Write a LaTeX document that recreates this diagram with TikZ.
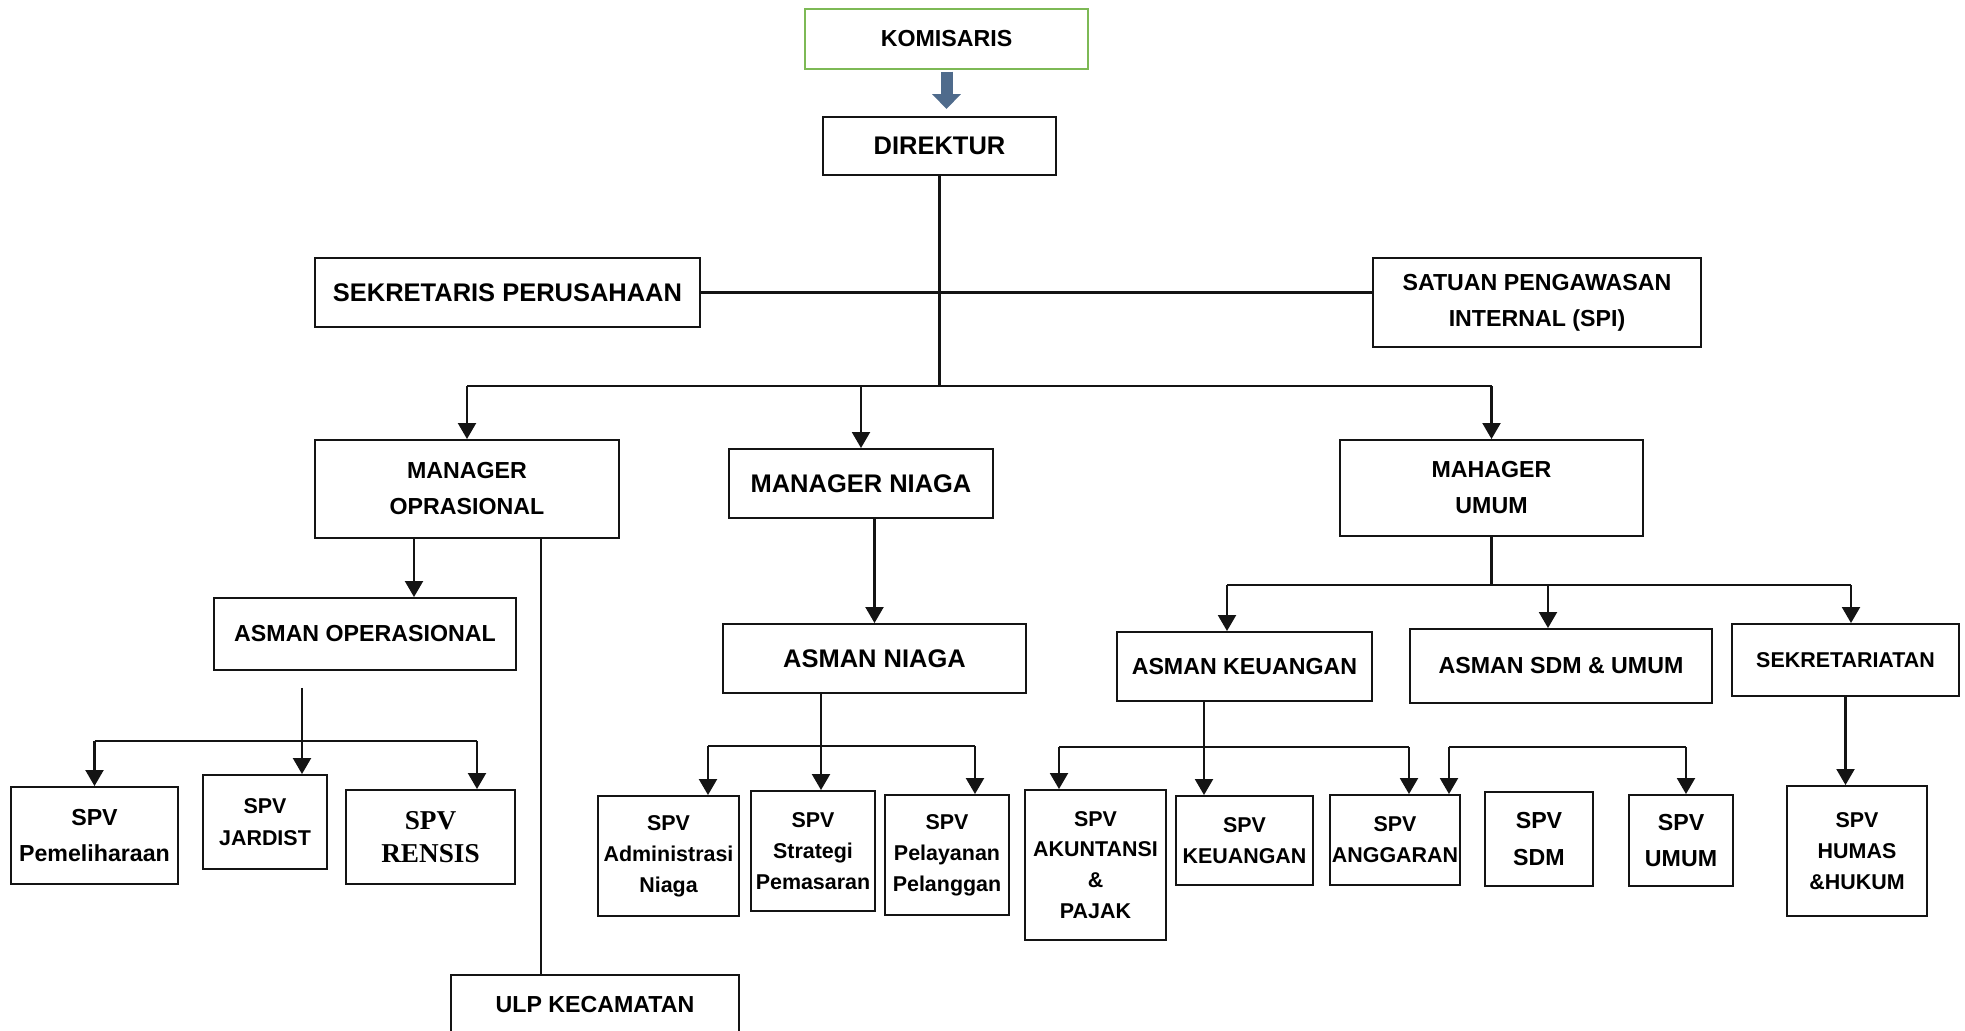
\documentclass[tikz,border=0pt]{standalone}
\usepackage{fontspec}
\setmainfont{Liberation Sans}
\newfontfamily\timesfont{Liberation Serif}
\usetikzlibrary{arrows.meta,positioning,calc}
\definecolor{orgline}{RGB}{20,20,20}
\definecolor{komgreen}{RGB}{125,185,85}
\definecolor{arrowblue}{RGB}{79,107,140}

\begin{document}
\begin{tikzpicture}[
        x=0.02cm, y=-0.02cm,
        box/.style={draw=orgline, line width=1.1pt, fill=white, align=center, inner xsep=1pt, inner ysep=2pt},
        sz/.style 2 args={minimum width=#1*0.02cm, minimum height=#2*0.02cm},
        fbig/.style={font=\bfseries\fontsize{14.5}{21}\selectfont},
        fmid/.style={font=\bfseries\fontsize{13.2}{20.5}\selectfont},
        fspv/.style={font=\bfseries\fontsize{12.2}{17.6}\selectfont},
        link/.style={draw=orgline, line width=1.2pt},
        arr/.style={link, -{Triangle[width=0.36cm, length=0.32cm]}}
    ]
        \useasboundingbox (0,0) rectangle (1965,1031);

        % Top level
        \node[box, sz={283}{60}, draw=komgreen, fmid] (kom) at (946.5,39) {KOMISARIS};
        \node[box, sz={233}{58}, fbig] (dir) at (939.5,146) {DIREKTUR};

        % Staff
        \node[box, sz={385}{69}, fbig] (sekper) at (507.5,292.5) {SEKRETARIS PERUSAHAAN};
        \node[box, sz={328}{89}, fmid] (spi) at (1537,302.5) {SATUAN PENGAWASAN\\INTERNAL (SPI)};

        % Managers
        \node[box, sz={304}{98}, fmid] (mo) at (467,489) {MANAGER\\OPRASIONAL};
        \node[box, sz={264}{69}, fbig] (mn) at (861,483.5) {MANAGER NIAGA};
        \node[box, sz={303}{96}, fmid] (mu) at (1491.5,488) {MAHAGER\\UMUM};

        % Asman
        \node[box, sz={302}{72}, fmid] (asop) at (365,634) {ASMAN OPERASIONAL};
        \node[box, sz={303}{69}, fbig] (asn) at (874.5,658.5) {ASMAN NIAGA};
        \node[box, sz={255}{69}, fmid] (ak) at (1244.5,666.5) {ASMAN KEUANGAN};
        \node[box, sz={302}{74}, fmid] (asdm) at (1561,666) {ASMAN SDM \& UMUM};
        \node[box, sz={227}{72}, fspv] (sekt) at (1845.5,660) {SEKRETARIATAN};

        % SPV operasional
        \node[box, sz={167}{97}, fmid] (pem) at (94.5,835.5) {SPV\\Pemeliharaan};
        \node[box, sz={124}{94}, font=\bfseries\fontsize{12.2}{18.5}\selectfont] (jar) at (265,822) {SPV\\JARDIST};
        \node[box, sz={169}{94}, font=\timesfont\bfseries\fontsize{15.5}{19}\selectfont] (ren) at (430.5,837) {SPV\\RENSIS};
        \node[box, sz={288}{60}, fmid] (ulp) at (595,1005) {ULP KECAMATAN};

        % SPV niaga
        \node[box, sz={141}{120}, fspv] (adm) at (668.5,856) {SPV\\Administrasi\\Niaga};
        \node[box, sz={124}{120}, fspv] (strat) at (813,851) {SPV\\Strategi\\Pemasaran};
        \node[box, sz={124}{120}, fspv] (pel) at (947,855) {SPV\\Pelayanan\\Pelanggan};

        % SPV umum
        \node[box, sz={141}{150}, fspv] (akt) at (1095.5,865) {SPV\\AKUNTANSI\\\&\\PAJAK};
        \node[box, sz={137}{89}, fspv] (keu) at (1244.5,840.5) {SPV\\KEUANGAN};
        \node[box, sz={130}{90}, fspv] (ang) at (1395,840) {SPV\\ANGGARAN};
        \node[box, sz={108}{94}, fmid] (sdm) at (1539,839) {SPV\\SDM};
        \node[box, sz={104}{91}, fmid] (umum) at (1681,840.5) {SPV\\UMUM};
        \node[box, sz={140}{130}, fspv] (humas) at (1857,851) {SPV\\HUMAS\\\&HUKUM};

        % Bus points
        \coordinate (mbus) at (0,386);
        \coordinate (m1) at (414,0);
        \coordinate (opbus) at (302,741);
        \coordinate (renin) at (477,741);
        \coordinate (ulpx) at (541,0);
        \coordinate (nbusl) at (708,746);
        \coordinate (nfeed) at (821,746);
        \coordinate (nbusr) at (975,746);
        \coordinate (u1) at (1227,585);
        \coordinate (u2) at (1548,585);
        \coordinate (u3) at (1851,585);
        \coordinate (k1) at (1059,747);
        \coordinate (k2) at (1204,747);
        \coordinate (k3) at (1409,747);
        \coordinate (s1) at (1449,747);
        \coordinate (s2) at (1686,747);

        % Relationships
        \draw[arrowblue, line width=0.24cm, -{Triangle[width=0.56cm, length=0.3cm]}, shorten <=1pt, shorten >=0.14cm] (kom.south) -- (kom.south |- dir.north);
        \draw[link] (sekper.east) -- (sekper.east -| spi.west);
        \draw[link] (dir.south) -- (dir.south |- mbus);
        \draw[link] (mo.north |- mbus) -- (mu.north |- mbus);
        \foreach \n in {mo,mn,mu}
            \draw[arr] (\n.north |- mbus) -- (\n.north);

        \draw[arr] (m1 |- mo.south) -- (m1 |- asop.north);
        \draw[link] (mo.south -| ulpx) -- (ulp.north -| ulpx);
        \draw[link] (pem.north |- opbus) -- (renin);
        \draw[arr] (pem.north |- opbus) -- (pem.north);
        \draw[arr, shorten <=0.34cm] (opbus |- asop.south) -- (opbus |- jar.north);
        \draw[arr] (renin) -- (renin |- ren.north);

        \draw[arr] (asn.north |- mn.south) -- (asn.north);
        \draw[link] (nbusl) -- (nbusr);
        \draw[arr] (nfeed |- asn.south) -- (nfeed |- strat.north);
        \draw[arr] (nbusl) -- (nbusl |- adm.north);
        \draw[arr] (nbusr) -- (nbusr |- pel.north);

        \draw[link] (mu.south) -- (mu.south |- u1);
        \draw[link] (u1) -- (u3);
        \foreach \c/\n in {u1/ak,u2/asdm,u3/sekt}
            \draw[arr] (\c) -- (\c |- \n.north);

        \draw[link] (k1) -- (k3);
        \draw[arr] (k2 |- ak.south) -- (k2 |- keu.north);
        \draw[arr] (k1) -- (k1 |- akt.north);
        \draw[arr] (k3) -- (k3 |- ang.north);
        \draw[link] (s1) -- (s2);
        \draw[arr] (s1) -- (s1 |- ang.north);
        \draw[arr] (s2) -- (s2 |- umum.north);

        \draw[arr] (sekt.south) -- (sekt.south |- humas.north);
    \end{tikzpicture}
\end{document}
